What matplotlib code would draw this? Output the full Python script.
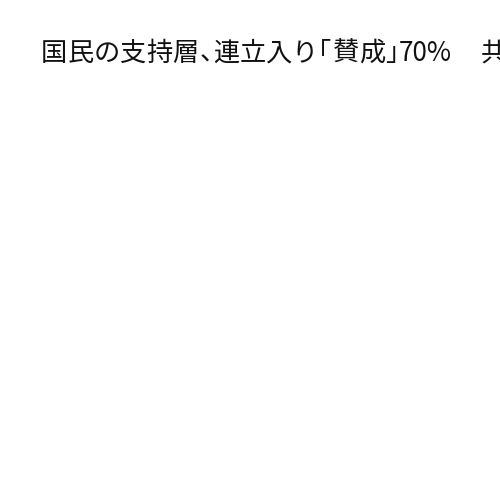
import matplotlib
matplotlib.use("Agg")
import matplotlib.pyplot as plt
from matplotlib.transforms import IdentityTransform

plt.rcParams['font.family'] = ['Noto Sans CJK JP', 'DejaVu Sans']

# Title text (cut off at the right edge in the reference)
title_text = "国民の支持層、連立入り「賛成」70%　共"

fig = plt.figure(figsize=(5, 5), dpi=100)
fig.patch.set_facecolor('white')
fig.canvas.draw()
renderer = fig.canvas.get_renderer()

fs_pt = 18.9
em = fs_pt * 100 / 72.0
x = 41.0
baseline = 500 - 61.0
tr = IdentityTransform()
col = '#111111'

latin = ""
def flush_latin():
    global x, latin
    if latin:
        t = fig.text(x + 0.06 * em, baseline, latin, fontsize=fs_pt, ha='left', va='baseline',
                     transform=tr, color=col)
        w = t.get_window_extent(renderer).width
        x += w + 0.18 * em
        latin = ""

for ch in title_text:
    if ord(ch) < 0x3000 and ch not in "、「」":
        latin += ch
        continue
    flush_latin()
    if ch == "、":
        fig.text(x + 0.05 * em, baseline, ch, fontsize=fs_pt, ha='left', va='baseline', transform=tr, color=col)
        x += 0.55 * em
    elif ch == "「":
        fig.text(x + 0.5 * em, baseline, ch, fontsize=fs_pt, ha='right', va='baseline', transform=tr, color=col)
        x += 0.55 * em
    elif ch == "」":
        fig.text(x + 0.0 * em, baseline, ch, fontsize=fs_pt, ha='left', va='baseline', transform=tr, color=col)
        x += 0.45 * em
    elif ch == "　":
        x += em
    else:
        fig.text(x + em / 2, baseline, ch, fontsize=fs_pt, ha='center', va='baseline', transform=tr, color=col)
        x += em
flush_latin()

fig.savefig("out.png", dpi=100, facecolor='white')
